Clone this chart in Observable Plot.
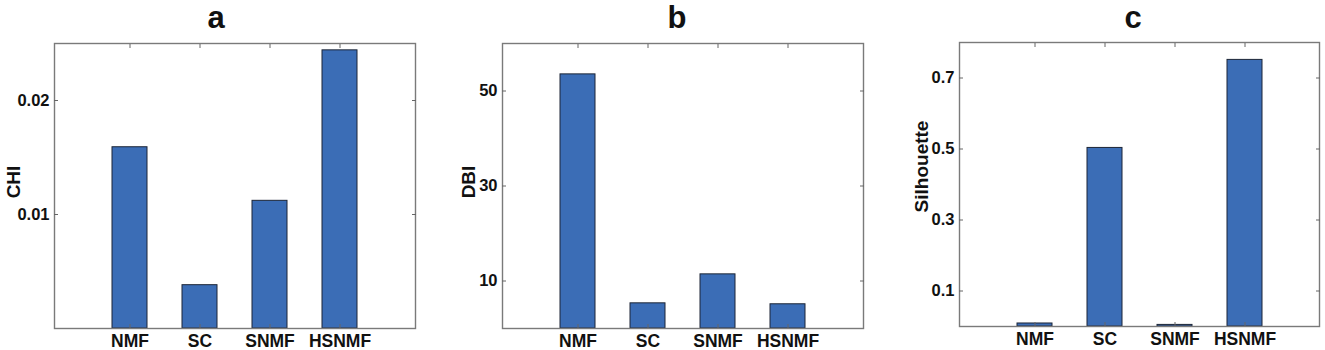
<!DOCTYPE html>
<html>
<head>
<meta charset="utf-8">
<script src="https://cdn.jsdelivr.net/npm/d3@7"></script>
<script src="https://cdn.jsdelivr.net/npm/@observablehq/plot@0.6"></script>
<style>
  html, body { margin: 0; padding: 0; background: #fff; }
  #wrap { position: relative; width: 1325px; height: 350px; overflow: hidden; background: #fff;
          font-family: "Liberation Sans", Arial, sans-serif; }
  .panel { position: absolute; top: 0; }
  .title { position: absolute; width: 100px; text-align: center; font-size: 31px; line-height: 30px;
           font-weight: bold; color: #111; }
</style>
</head>
<body>
<div id="wrap"></div>
<script>
// ---- data ----
const categories = ["NMF", "SC", "SNMF", "HSNMF"];
const chiValues = [0.0159, 0.0038, 0.0112, 0.0244];
const dbiValues = [53.5, 5.3, 11.4, 5.1];
const silhouetteValues = [0.0085, 0.503, 0.0045, 0.751];
const chiTicks = [0.01, 0.02];
const dbiTicks = [10, 30, 50];
const silhouetteTicks = [0.1, 0.3, 0.5, 0.7];
const panelTitles = ["a", "b", "c"];
const yLabels = ["CHI", "DBI", "Silhouette"];
const yMax = [0.025, 60, 0.8];

// ---- layout (styling only) ----
const panels = [
  {values: chiValues, ticks: chiTicks, left: 0, width: 440, mL: 54, mR: 25, mT: 43, mB: 22, labelDx: -41, labelDy: -4, titleX: 216},
  {values: dbiValues, ticks: dbiTicks, left: 440, width: 440, mL: 62, mR: 17, mT: 43, mB: 22, labelDx: -34, labelDy: -4, titleX: 677},
  {values: silhouetteValues, ticks: silhouetteTicks, left: 880, width: 445, mL: 79, mR: 6, mT: 42, mB: 24, labelDx: -38, labelDy: -18, titleX: 1133}
];

const BAR_FILL = "#3b6db6";
const BAR_STROKE = "#1c2536";
const FRAME = "#7a7a7a";
const TEXT = "#111";

const wrap = document.getElementById("wrap");

panels.forEach((p, i) => {
  const data = categories.map((c, j) => ({cat: c, v: p.values[j]}));
  const chart = Plot.plot({
    width: p.width,
    height: 350,
    marginLeft: p.mL,
    marginRight: p.mR,
    marginTop: p.mT,
    marginBottom: p.mB,
    style: {fontFamily: '"Liberation Sans", Arial, sans-serif', fontWeight: "bold", color: TEXT, background: "transparent", overflow: "visible"},
    x: {type: "band", domain: categories, paddingInner: 0.5, paddingOuter: 0.8},
    y: {domain: [0, yMax[i]]},
    marks: [
      Plot.barY(data, {x: "cat", y: "v", fill: BAR_FILL, stroke: BAR_STROKE, strokeWidth: 1}),
      Plot.frame({stroke: FRAME, strokeWidth: 1.4}),
      // y tick labels
      Plot.axisY({anchor: "left", ticks: p.ticks, tickFormat: d => String(d), tickSize: 0, tickPadding: 5, label: null, fontSize: 16.5, fill: TEXT}),
      // inward y ticks left & right
      Plot.axisY({anchor: "left", ticks: p.ticks, tickSize: 4, dx: 4, fill: "none", stroke: "#666", label: null}),
      Plot.axisY({anchor: "right", ticks: p.ticks, tickSize: 4, dx: -4, fill: "none", stroke: "#666", label: null}),
      // x category labels
      Plot.axisX({anchor: "bottom", tickSize: 0, tickPadding: 6, label: null, fontSize: 17.5, fill: TEXT}),
      // inward x ticks bottom & top
      Plot.axisX({anchor: "bottom", tickSize: 4, dy: -4, fill: "none", stroke: "#666", label: null}),
      Plot.axisX({anchor: "top", tickSize: 4, dy: 4, fill: "none", stroke: "#666", label: null}),
      // y axis title
      Plot.text([yLabels[i]], {frameAnchor: "left", dx: p.labelDx, dy: p.labelDy, rotate: -90, fontSize: 19, fontWeight: "bold", fill: TEXT, textAnchor: "middle", lineAnchor: "middle"})
    ]
  });
  const div = document.createElement("div");
  div.className = "panel";
  div.style.left = p.left + "px";
  div.appendChild(chart);
  wrap.appendChild(div);

  const t = document.createElement("div");
  t.className = "title";
  t.textContent = panelTitles[i];
  t.style.left = (p.titleX - 50) + "px";
  t.style.top = "3px";
  wrap.appendChild(t);
});
</script>
</body>
</html>
